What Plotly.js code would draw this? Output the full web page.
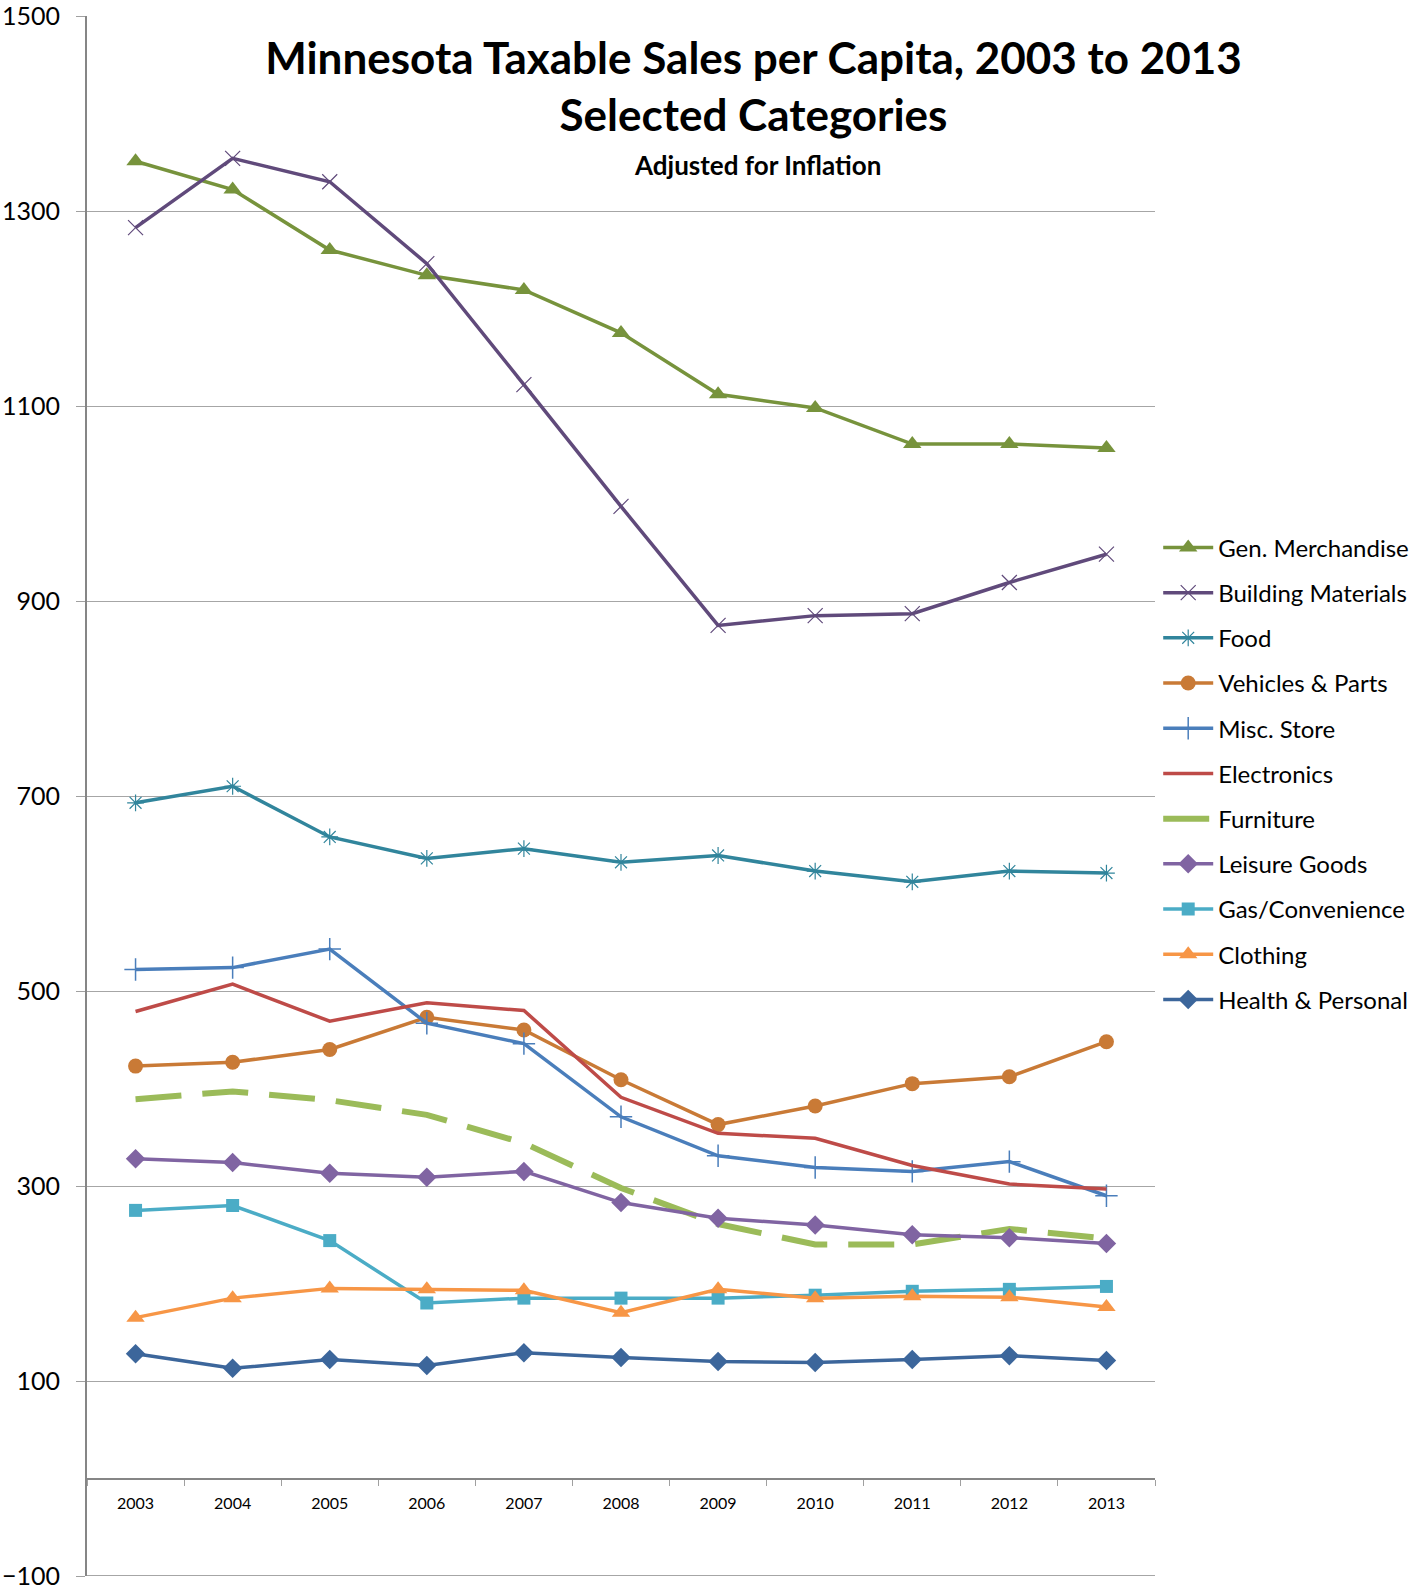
<!DOCTYPE html>
<html>
<head>
<meta charset="utf-8">
<script src="https://cdn.plot.ly/plotly-3.0.1.min.js"></script>
<style>html,body{margin:0;padding:0;background:#fff;}#chart{width:1426px;height:1589px;}</style>
</head>
<body>
<div id="chart"></div>
<script>
const years = ["2003","2004","2005","2006","2007","2008","2009","2010","2011","2012","2013"];
const genMerchandise   = [1351,1322,1260,1234,1219,1175,1112,1098,1061,1061,1057];
const buildingMaterials= [1283,1354,1330,1246,1122,997,875,885,887,919,948];
const food             = [693,710,658,636,646,632,639,623,612,623,621];
const vehiclesParts    = [423,427,440,473,460,409,363,382,405,412,448];
const miscStore        = [522,524,543,467,446,371,331,319,315,325,290];
const electronics      = [479,507,469,488,480,391,354,349,321,302,297];
const furniture        = [389,397,388,373,344,298,261,240,240,256,246];
const leisureGoods     = [328,324,313,309,315,283,267,260,250,247,241];
const gasConvenience   = [275,280,244,180,185,185,185,188,192,194,197];
const clothing         = [165,185,195,194,193,170,194,185,187,186,176];
const healthPersonal   = [128,113,122,116,129,124,120,119,122,126,121];

const FONT = "Lato, 'Open Sans', sans-serif";

function tr(name, y, color, opts) {
  const t = {
    type: 'scatter', mode: opts.symbol ? 'lines+markers' : 'lines',
    name: name, x: years, y: y, legendgroup: name,
    line: {color: color, width: opts.width || 3.5, dash: opts.dash || 'solid'},
    cliponaxis: false
  };
  if (opts.symbol) {
    t.marker = {symbol: opts.symbol, size: opts.size || 12, color: color,
      line: {color: color, width: opts.mlw || 0}};
  }
  return t;
}

const data = [
  tr('Gen. Merchandise', genMerchandise, '#77933C', {symbol: 'triangle-up', size: 16}),
  tr('Building Materials', buildingMaterials, '#604A7B', {symbol: 'x-thin-open', size: 15, mlw: 1.2}),
  tr('Food', food, '#31859C', {symbol: 'asterisk-open', size: 14, mlw: 1.2}),
  tr('Vehicles & Parts', vehiclesParts, '#C97A36', {symbol: 'circle', size: 15}),
  tr('Misc. Store', miscStore, '#4A7EBB', {symbol: 'cross-thin-open', size: 16, mlw: 1.5}),
  tr('Electronics', electronics, '#BE4B48', {}),
  tr('Furniture', furniture, '#9BBB59', {width: 6, dash: '46px,21px'}),
  tr('Leisure Goods', leisureGoods, '#8064A2', {symbol: 'diamond', size: 15}),
  tr('Gas/Convenience', gasConvenience, '#4BACC6', {symbol: 'square', size: 13}),
  tr('Clothing', clothing, '#F79646', {symbol: 'triangle-up', size: 16}),
  tr('Health & Personal', healthPersonal, '#3C669B', {symbol: 'diamond', size: 15})
];

const layout = {
  width: 1426, height: 1589,
  margin: {l: 87, r: 271, t: 16, b: 13},
  paper_bgcolor: '#ffffff', plot_bgcolor: '#ffffff',
  font: {family: FONT, color: '#000000'},
  showlegend: true,
  title: {
    text: '<b>Minnesota Taxable Sales per Capita, 2003 to 2013</b><br><b>Selected Categories</b>',
    font: {family: FONT, size: 44, color: '#000000'},
    xref: 'container', x: 0.5284, xanchor: 'center',
    yref: 'container', y: 0.9536, yanchor: 'top'
  },
  annotations: [{
    text: '<b>Adjusted for Inflation</b>', xref: 'paper', yref: 'paper',
    x: (757 - 87) / 1068, y: 1 - (165 - 16) / 1560, xanchor: 'center', yanchor: 'middle',
    showarrow: false, font: {family: FONT, size: 26, color: '#000000'}
  }],
  shapes: [{
    type: 'line', xref: 'paper', yref: 'y', x0: 0, x1: 1, y0: -100, y1: -100,
    line: {color: '#A6A6A6', width: 2}, layer: 'below'
  }],
  xaxis: {
    type: 'category', range: [-0.5, 10.5],
    anchor: 'free', position: 0.0625,
    showline: true, linecolor: '#868686', linewidth: 2,
    ticks: 'outside', tickson: 'boundaries', ticklen: 6, tickcolor: '#A0A0A0', tickwidth: 1,
    showgrid: false, zeroline: false,
    tickfont: {family: FONT, size: 16, color: '#000000'},
    ticklabelstandoff: 10
  },
  yaxis: {
    range: [-100, 1500], tick0: -100, dtick: 200, autorange: false,
    showline: true, linecolor: '#868686', linewidth: 2,
    ticks: 'outside', ticklen: 9, tickcolor: '#A0A0A0', tickwidth: 1,
    showgrid: true, gridcolor: '#A6A6A6', gridwidth: 1,
    zeroline: false, ticklabeloverflow: 'allow',
    tickfont: {family: FONT, size: 25, color: '#000000'},
    ticklabelstandoff: 11
  },
  legend: {
    x: 1.003, xanchor: 'left', y: 0.6735, yanchor: 'top',
    font: {family: FONT, size: 24, color: '#000000'},
    traceorder: 'grouped', tracegroupgap: 11,
    itemwidth: 50, bgcolor: 'rgba(0,0,0,0)'
  }
};

Plotly.newPlot('chart', data, layout, {displayModeBar: false, staticPlot: true});
</script>
</body>
</html>
